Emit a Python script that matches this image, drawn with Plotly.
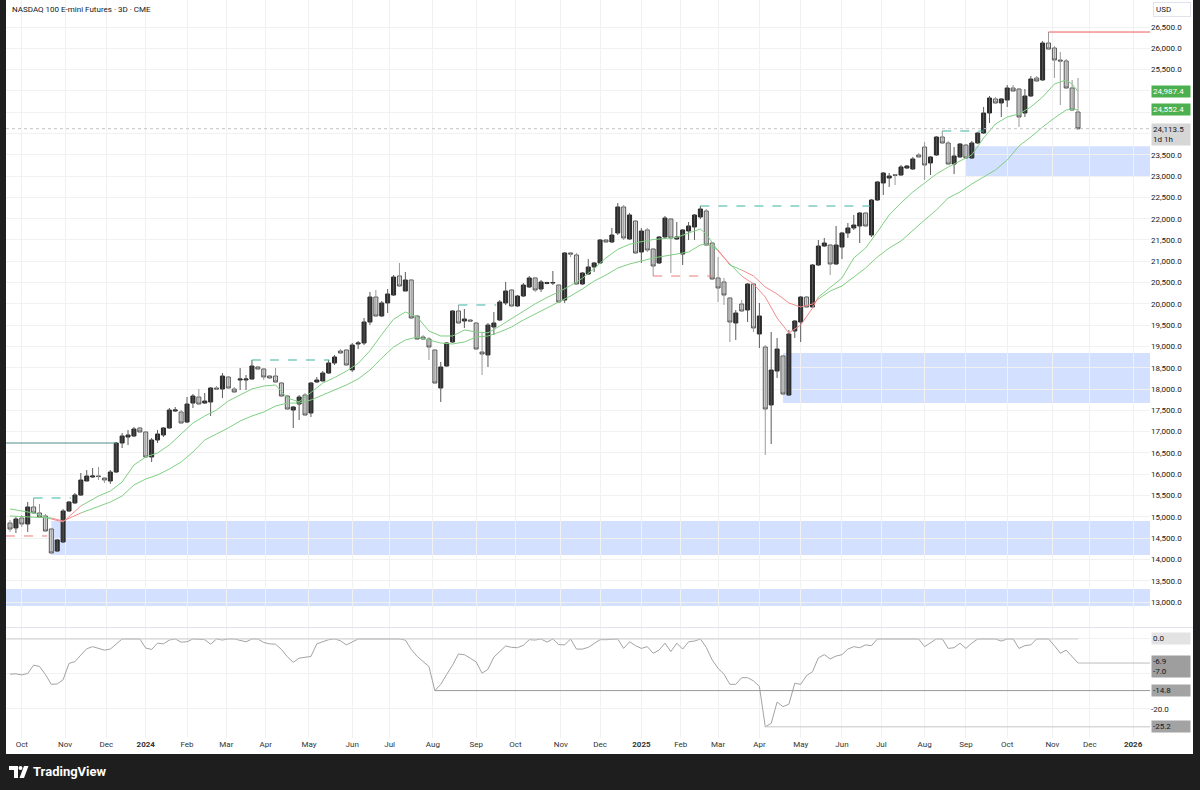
import numpy as np
import pandas as pd
import plotly.graph_objects as go

# ---------------- data ----------------
TITLE = "NASDAQ 100 E-mini Futures · 3D · CME"
first_session = "2023-09-22"
cme_holidays = ["2023-11-23", "2023-12-25", "2024-01-01", "2024-01-15", "2024-02-19",
                "2024-03-29", "2024-05-27", "2024-06-19", "2024-07-04", "2024-09-02",
                "2024-11-28", "2024-12-25", "2025-01-01", "2025-01-09", "2025-01-20",
                "2025-02-17", "2025-04-18", "2025-05-26", "2025-06-19", "2025-07-04",
                "2025-09-01", "2025-11-27", "2025-12-25", "2026-01-01"]

opens = [14855, 14738, 14972, 14831, 15231, 15090, 15019, 14714, 14197, 14409,
         15137, 15325, 15512, 15841, 15935, 15960, 15911, 15841, 16052, 16733,
         16874, 16898, 17086, 16992, 16405, 16804, 16921, 17086, 17485, 17461,
         17226, 17672, 17813, 17672, 17696, 18025, 18001, 18283, 18001, 18213,
         18213, 18236, 18518, 18471, 18306, 18306, 18142, 17837, 17508, 17649,
         17860, 17438, 18166, 18189, 18377, 18612, 18893, 18917, 18450, 19058,
         19081, 19574, 20161, 19715, 20021, 20208, 20655, 20302, 20561, 19715,
         19222, 19175, 18917, 18025, 18541, 19105, 19833, 19598, 19621, 19551,
         18870, 18800, 19457, 19621, 20021, 20326, 19950, 20185, 20396, 20608,
         20349, 20480, 20490, 20443, 20091, 21195, 21147, 20467, 20701, 20866,
         20960, 21500, 21453, 21664, 22275, 21523, 21946, 21218, 21735, 21288,
         20960, 21570, 21993, 21523, 21171, 21711, 21805, 22040, 22181, 21429,
         20608, 20514, 20138, 19551, 19997, 19856, 20467, 19293, 18987, 17626,
         18424, 18776, 17860, 19363, 19574, 20161, 19927, 20913, 21359, 21382,
         20936, 21335, 21664, 21782, 21829, 22134, 21617, 22439, 22838, 22955,
         23030, 23026, 23190, 23167, 23496, 23683, 23308, 23496, 23918, 23777,
         23284, 23449, 23730, 23425, 23777, 24012, 24482, 24811, 24717, 24787,
         25069, 25045, 24482, 24881, 25303, 25257, 26125, 26008, 25726, 25703,
         25069, 24505]
highs = [14925, 14996, 15043, 15348, 15440, 15301, 15066, 14738, 14480, 15184,
         15371, 15559, 16029, 16099, 16146, 16170, 15935, 16099, 16757, 16968,
         17039, 17109, 17109, 17000, 16851, 17039, 17109, 17555, 17579, 17508,
         17813, 17884, 18001, 17907, 18048, 18072, 18377, 18306, 18048, 18494,
         18330, 18682, 18541, 18494, 18330, 18494, 18166, 17860, 17602, 17860,
         17907, 18166, 18283, 18424, 18682, 18800, 18940, 18940, 19081, 19128,
         19668, 20279, 20326, 20068, 20349, 20678, 20960, 20748, 20584, 19739,
         19269, 19222, 18940, 18635, 19105, 19856, 19974, 19880, 19645, 19574,
         19316, 19551, 19809, 20091, 20514, 20349, 20208, 20490, 20655, 20631,
         20561, 20520, 20772, 20467, 21218, 21218, 21195, 20748, 21054, 20983,
         21523, 21510, 21782, 22369, 22322, 22134, 21970, 21782, 21782, 21312,
         21594, 22063, 22016, 21922, 21758, 21922, 22110, 22298, 22228, 21453,
         21100, 20608, 20161, 19856, 20091, 20490, 20490, 20021, 19034, 19340,
         19199, 18800, 19387, 19621, 20185, 20185, 20936, 21500, 21547, 21406,
         21829, 21688, 21899, 22087, 22157, 22157, 22463, 22885, 23096, 23073,
         23049, 23261, 23261, 23449, 23543, 23801, 23472, 23942, 24059, 23824,
         23683, 23777, 23754, 23824, 24040, 24623, 24881, 24857, 24834, 25139,
         25139, 25069, 25045, 25350, 25350, 26172, 26383, 26055, 25914, 25750,
         25257, 25304]
lows = [14644, 14620, 14761, 14644, 15080, 14990, 14644, 14140, 14174, 14385,
        15113, 15301, 15489, 15841, 15911, 15865, 15794, 15771, 16029, 16616,
        16686, 16874, 16992, 16400, 16287, 16733, 16874, 17062, 17461, 17203,
        17203, 17555, 17626, 17649, 17367, 17978, 17790, 18010, 17907, 17978,
        17978, 18213, 18460, 18213, 18236, 18142, 17813, 17508, 17085, 17273,
        17367, 17344, 18142, 18189, 18353, 18565, 18823, 18541, 18400, 18940,
        19034, 19504, 19692, 19692, 19786, 20185, 20396, 20302, 19645, 19152,
        19152, 18682, 18119, 17696, 18518, 19081, 19527, 19434, 19574, 18917,
        18330, 18518, 19269, 19598, 19974, 19927, 19927, 20161, 20373, 20279,
        20279, 20460, 20443, 20021, 20021, 21100, 20443, 20443, 20678, 20748,
        20936, 21429, 21429, 21617, 21500, 21500, 21171, 20960, 21218, 20654,
        20936, 21523, 20725, 21500, 20913, 21500, 21500, 21993, 21359, 20561,
        20044, 19974, 19105, 19152, 19809, 19574, 19340, 18964, 16452, 16710,
        18260, 17860, 17837, 19199, 19105, 19903, 19903, 20889, 21335, 20678,
        20913, 21054, 21547, 21735, 21429, 21805, 21570, 22416, 22556, 22744,
        22791, 23002, 23167, 23143, 23440, 22909, 23026, 23472, 23754, 23261,
        23049, 23426, 23402, 23402, 23754, 23989, 24247, 24693, 24388, 24623,
        24975, 24153, 24388, 24857, 25210, 25233, 25961, 25304, 24670, 25045,
        24529, 24083]
closes = [14714, 14949, 14831, 15231, 15090, 14996, 14667, 14151, 14456, 15137,
          15348, 15512, 15864, 15958, 15958, 15945, 15865, 16052, 16733, 16898,
          16921, 17062, 16992, 16405, 16804, 16945, 17086, 17508, 17508, 17203,
          17649, 17837, 17649, 17719, 18025, 18001, 18306, 18025, 17931, 18236,
          18236, 18541, 18471, 18283, 18260, 18166, 17837, 17532, 17579, 17813,
          17391, 18142, 18213, 18377, 18612, 18753, 18847, 18565, 19034, 19081,
          19574, 20161, 19715, 20021, 20232, 20631, 20420, 20561, 19668, 19175,
          19175, 18987, 18142, 18518, 19081, 19833, 19551, 19645, 19598, 18940,
          18823, 19504, 19551, 20044, 20302, 19950, 20185, 20443, 20608, 20326,
          20514, 20500, 20500, 20044, 21195, 21171, 20467, 20725, 20866, 20960,
          21500, 21453, 21617, 22275, 21547, 22087, 21195, 21711, 21265, 20889,
          21570, 22016, 21547, 21570, 21735, 21829, 22087, 22228, 21382, 20584,
          20373, 20208, 19574, 19786, 19833, 20467, 19434, 19715, 17532, 18447,
          18940, 17884, 19293, 19598, 20161, 19927, 20913, 21359, 21429, 20936,
          21382, 21664, 21782, 21852, 22134, 21829, 22439, 22862, 23073, 23002,
          23020, 23214, 23237, 23402, 23449, 23261, 23449, 23918, 23777, 23284,
          23472, 23754, 23425, 23777, 24012, 24482, 24834, 24717, 24811, 25069,
          24998, 24388, 24881, 25280, 25233, 26125, 25984, 25726, 25703, 25069,
          24552, 24113.5]

# moving averages (read at these bars)
ma_bars = [0, 4, 7, 9, 12, 15, 17, 19, 21, 23, 25, 27, 29, 31, 33, 35, 37, 39, 41, 43,
           45, 47, 49, 51, 53, 55, 57, 59, 61, 63, 65, 67, 69, 71, 73, 75, 77, 79, 81, 83,
           85, 87, 89, 91, 93, 95, 97, 99, 101, 103, 105, 107, 109, 111, 113, 115, 117, 118,
           119, 120, 122, 124, 126, 128, 130, 132, 134, 136, 137, 139, 141, 143, 145, 147,
           149, 151, 153, 155, 157, 159, 161, 163, 165, 167, 169, 171, 173, 175, 177, 179,
           180, 181]
ma_fast = [15184, 15090, 14949, 14880, 15254, 15489, 15606, 15818, 16217, 16405,
           16499, 16686, 16945, 17203, 17367, 17508, 17720, 17860, 18001, 18072,
           18095, 17790, 17700, 17920, 18140, 18270, 18420, 18600, 18900, 19280,
           19640, 19810, 19692, 19363, 19246, 19246, 19387, 19340, 19320, 19480,
           19660, 19820, 20000, 20150, 20280, 20430, 20600, 20830, 21080, 21280,
           21400, 21460, 21510, 21535, 21560, 21664, 21758, 21641, 21453, 21241,
           20936, 20654, 20467, 20161, 19668, 19316, 19504, 19903, 20161, 20396,
           20608, 21077, 21312, 21688, 22087, 22369, 22627, 22838, 23049, 23214,
           23355, 23496, 23895, 24224, 24388, 24458, 24623, 24857, 25163, 25257,
           25163, 24987.4]
ma_slow = [15019, 14996, 14972, 14902, 15090, 15254, 15348, 15489, 15747, 15888,
           15982, 16123, 16287, 16522, 16804, 16945, 17086, 17250, 17367, 17461,
           17602, 17672, 17672, 17743, 17860, 17978, 18095, 18236, 18447, 18729,
           18987, 19152, 19222, 19152, 19081, 19058, 19105, 19222, 19246, 19340,
           19457, 19621, 19762, 19903, 20044, 20185, 20349, 20537, 20678, 20842,
           20936, 21007, 21077, 21124, 21171, 21218, 21382, 21406, 21335, 21265,
           20913, 20795, 20655, 20396, 20232, 20021, 19927, 19997, 20114, 20302,
           20420, 20631, 20842, 21100, 21312, 21476, 21735, 21970, 22204, 22486,
           22627, 22815, 22979, 23143, 23378, 23707, 23918, 24153, 24364, 24552,
           24576, 24552.4]

# lower pane: % below the running high
drawdown = [-10.1, -10.0, -10.3, -9.9, -7.5, -7.9, -10.2, -13.0, -12.9, -11.7,
            -7.0, -6.5, -4.6, -2.8, -2.2, -2.6, -3.2, -2.9, -1.3, 0.0,
            0.0, 0.0, 0.0, -2.6, -3.0, -1.2, -1.4, -0.3, 0.0, -0.9,
            -0.8, 0.0, 0.0, -0.2, -1.5, 0.0, -0.3, 0.0, 0.0, -0.3,
            -0.8, 0.0, 0.0, -1.0, -1.4, -1.5, -3.0, -5.1, -6.7, -5.5,
            -5.2, -5.0, -1.4, -0.9, -0.2, 0.0, -0.5, -1.7, -0.8, 0.0,
            0.0, 0.0, 0.0, 0.0, 0.0, 0.0, 0.0, -0.3, -3.0, -5.0,
            -6.4, -7.9, -14.8, -13.0, -10.2, -7.5, -4.3, -4.5, -5.5, -6.6,
            -9.8, -8.7, -5.2, -3.7, -2.0, -2.4, -2.5, -1.8, -0.2, -0.3,
            0.0, -0.9, 0.0, -1.6, -1.7, 0.0, -2.9, -2.9, -2.4, -1.3,
            -0.2, -0.2, -0.1, 0.0, -2.7, -0.8, -1.9, -2.7, -2.2, -4.1,
            -3.2, -1.2, -3.6, -1.2, -2.9, -0.8, -0.6, 0.0, -2.4, -6.0,
            -8.4, -10.1, -13.0, -13.0, -11.1, -11.1, -12.0, -13.6, -25.2, -24.2,
            -18.1, -19.4, -18.7, -12.7, -13.0, -10.5, -9.4, -5.4, -4.5, -5.7,
            -4.9, -4.5, -2.9, -2.2, -2.5, -1.7, -1.9, 0.0, 0.0, 0.0,
            0.0, 0.0, 0.0, 0.0, 0.0, -2.2, -1.2, 0.0, 0.0, -2.7,
            -2.5, -1.2, -2.7, -1.2, 0.0, 0.0, 0.0, 0.0, -0.6, 0.0,
            0.0, -2.7, -1.9, -1.7, 0.0, 0.0, 0.0, -1.9, -4.1, -3.2,
            -5.1, -6.9]

# drawn levels (price, first bar, last bar)
res_levels = [15442, 18682, 19974, 22298, 24059]
res_from = [4, 41, 76, 117, 158]
res_to = [10.3, 54.1, 82.4, 145.8, 164.9]
sup_levels = [14550, 20654]
sup_from = [-1, 109]
sup_to = [6.3, 119]
old_high = 16733
old_high_to = 18.1
ath_level = 26383
ath_from = 176
zone_low = [23000, 17672, 14104, 12906]
zone_high = [23700, 18846, 14902, 13305]
zone_from = [162, 131, 7, -1]
dd_marks = [-14.8, -25.2]
dd_marks_from = [72, 128]
last_price = 24113.5
fast_last, slow_last = 24987.4, 24552.4
dd_last, dd_other = -6.9, -7.0
countdown = "1d 1h"

# ---------------- geometry / style ----------------
W, H = 1200, 790
ML, MR, MT, MB = 6, 50, 0, 52
PW, PH = W - ML - MR, H - MT - MB
XMIN, XMAX = -0.68, 193.2
FONT = "Roboto, Arial, sans-serif"
TXT = "#131722"
GRID = "#f1f1f1"


def pxx(px):
    return (px - ML) / PW


def pxy(py):
    return (H - MB - py) / PH


n = len(closes)
bars = list(range(n))

# month ticks from the trading calendar
days = pd.bdate_range(first_session, "2026-02-27", freq="C", holidays=cme_holidays)
month_starts = pd.date_range("2023-10-01", "2026-01-01", freq="MS")
tick_pos = [days.searchsorted(m) / 3 for m in month_starts]
tick_txt = [f"<b>{m.year}</b>" if m.month == 1 else m.strftime("%b") for m in month_starts]

fig = go.Figure()

# wicks
for up, col in [(True, "#5a5a5a"), (False, "#9a9a9a")]:
    wx, wy = [], []
    for i in bars:
        if (closes[i] >= opens[i]) == up:
            wx += [i, i, None]
            wy += [lows[i], highs[i], None]
    fig.add_trace(go.Scatter(x=wx, y=wy, mode="lines", line=dict(color=col, width=1),
                             hoverinfo="skip", showlegend=False))

# bodies
fig.add_trace(go.Candlestick(
    x=bars, open=opens, close=closes,
    high=[max(o, c) for o, c in zip(opens, closes)],
    low=[min(o, c) for o, c in zip(opens, closes)],
    increasing=dict(line=dict(color="#2b2b2b", width=1), fillcolor="#2b2b2b"),
    decreasing=dict(line=dict(color="#565656", width=1), fillcolor="#d9d9d9"),
    whiskerwidth=0, showlegend=False, hoverinfo="skip"))

# moving averages coloured by crossover state
state = [f >= s for f, s in zip(ma_fast, ma_slow)]
start = 0
for k in range(1, len(ma_bars) + 1):
    if k == len(ma_bars) or state[k] != state[k - 1]:
        end = min(k, len(ma_bars) - 1)
        col = "#7fcf83" if state[start] else "#f28b8b"
        for series in (ma_fast, ma_slow):
            fig.add_trace(go.Scatter(x=ma_bars[start:end + 1], y=series[start:end + 1],
                                     mode="lines", line=dict(color=col, width=1),
                                     hoverinfo="skip", showlegend=False))
        start = k

# lower pane line
fig.add_trace(go.Scatter(x=bars, y=drawdown, mode="lines", yaxis="y2",
                         line=dict(color="#a3a3a3", width=1),
                         hoverinfo="skip", showlegend=False))

shapes = []
# zones
for lo, hi, x0 in zip(zone_low, zone_high, zone_from):
    shapes.append(dict(type="rect", xref="x", yref="y", x0=max(x0, XMIN), x1=XMAX,
                       y0=lo, y1=hi, fillcolor="rgba(41,98,255,0.2)", line=dict(width=0),
                       layer="below"))
# dashed levels
for lv, a, b in zip(res_levels, res_from, res_to):
    shapes.append(dict(type="line", xref="x", yref="y", x0=a, x1=b, y0=lv, y1=lv,
                       line=dict(color="#3bb3a0", width=1, dash="dash")))
for lv, a, b in zip(sup_levels, sup_from, sup_to):
    shapes.append(dict(type="line", xref="x", yref="y", x0=max(a, XMIN), x1=b, y0=lv, y1=lv,
                       line=dict(color="#f07a7a", width=1, dash="dash")))
shapes.append(dict(type="line", xref="x", yref="y", x0=XMIN, x1=old_high_to,
                   y0=old_high, y1=old_high, line=dict(color="#4f8f88", width=1)))
shapes.append(dict(type="line", xref="x", yref="y", x0=ath_from, x1=XMAX,
                   y0=ath_level, y1=ath_level, line=dict(color="#f05a5a", width=1)))
shapes.append(dict(type="line", xref="x", yref="y", x0=XMIN, x1=XMAX,
                   y0=last_price, y1=last_price, line=dict(color="#c4c4c4", width=1, dash="dot")))
# lower pane levels
shapes.append(dict(type="line", xref="x", yref="y2", x0=XMIN, x1=n - 1, y0=0, y1=0,
                   line=dict(color="#cfcfcf", width=1)))
for lv, a, col in zip(dd_marks, dd_marks_from, ["#9a9a9a", "#c4c4c4"]):
    shapes.append(dict(type="line", xref="x", yref="y2", x0=a, x1=XMAX, y0=lv, y1=lv,
                       line=dict(color=col, width=1)))
shapes.append(dict(type="line", xref="x", yref="y2", x0=n - 1, x1=XMAX, y0=dd_last, y1=dd_last,
                   line=dict(color="#bdbdbd", width=1)))
# pane separator
shapes.append(dict(type="line", xref="paper", yref="paper", x0=0, x1=pxx(1193),
                   y0=pxy(627.5), y1=pxy(627.5), line=dict(color="#e0e3eb", width=1)))
# frame
DARK = "#1e1e1e"
shapes.append(dict(type="rect", xref="paper", yref="paper", x0=pxx(-2), x1=pxx(6),
                   y0=pxy(800), y1=pxy(-2), fillcolor=DARK, line=dict(width=0)))
shapes.append(dict(type="rect", xref="paper", yref="paper", x0=pxx(1193), x1=pxx(1202),
                   y0=pxy(800), y1=pxy(-2), fillcolor=DARK, line=dict(width=0)))
shapes.append(dict(type="rect", xref="paper", yref="paper", x0=pxx(-2), x1=pxx(1202),
                   y0=pxy(800), y1=pxy(754), fillcolor=DARK, line=dict(width=0)))
# logo glyph
shapes.append(dict(type="path", xref="paper", yref="paper",
                   path=(f"M {pxx(9)} {pxy(766)} L {pxx(18)} {pxy(766)} L {pxx(18)} {pxy(778)} "
                         f"L {pxx(14)} {pxy(778)} L {pxx(14)} {pxy(770)} L {pxx(9)} {pxy(770)} Z"),
                   fillcolor="white", line=dict(width=0)))
shapes.append(dict(type="circle", xref="paper", yref="paper", x0=pxx(18.5), x1=pxx(22.5),
                   y0=pxy(770), y1=pxy(766), fillcolor="white", line=dict(width=0)))
shapes.append(dict(type="path", xref="paper", yref="paper",
                   path=(f"M {pxx(24)} {pxy(766)} L {pxx(28.5)} {pxy(766)} L {pxx(24)} {pxy(778)} "
                         f"L {pxx(19.5)} {pxy(778)} Z"),
                   fillcolor="white", line=dict(width=0)))

ann = []
ann.append(dict(text=TITLE, xref="paper", yref="paper", x=pxx(10), y=pxy(9), xanchor="left",
                yanchor="middle", showarrow=False, font=dict(family=FONT, size=8, color=TXT)))
ann.append(dict(text="TradingView", xref="paper", yref="paper", x=pxx(31), y=pxy(772),
                xanchor="left", yanchor="middle", showarrow=False,
                font=dict(family=FONT, size=13, color="white", weight="bold")))
ann.append(dict(text="USD", xref="paper", yref="paper", x=pxx(1153), y=pxy(10), xanchor="left",
                yanchor="middle", showarrow=False, bgcolor="white", bordercolor="#e0e3eb",
                borderwidth=1, borderpad=2, width=32, align="left",
                font=dict(family=FONT, size=8, color=TXT)))


def box(val, yref, bg, fg, text=None, yshift=0):
    return dict(text=text or f"{val:,.1f}", xref="paper", yref=yref, x=pxx(1151), y=val,
                xanchor="left", yanchor="middle", yshift=yshift, showarrow=False,
                bgcolor=bg, borderpad=1, width=36, align="left",
                font=dict(family=FONT, size=8, color=fg))


ann.append(box(fast_last, "y", "#4caf50", "white"))
ann.append(box(slow_last, "y", "#4caf50", "white"))
ann.append(box(last_price, "y", "#d6d6d6", TXT,
               text=f"{last_price:,.1f}<br>{countdown}", yshift=-6))
ann.append(box(0.0, "y2", "#e3e3e3", TXT))
ann.append(box((dd_last + dd_other) / 2, "y2", "#9e9e9e", TXT,
               text=f"{dd_last:.1f}<br>{dd_other:.1f}", yshift=-3))
for lv in dd_marks:
    ann.append(box(lv, "y2", "#a3a3a3", TXT))

hidden = {24000, 24500, 25000}
yvals = list(range(13000, 26501, 500))
ytext = ["" if v in hidden else f"{v:,.1f}" for v in yvals]

fig.update_layout(
    width=W, height=H, margin=dict(l=ML, r=MR, t=MT, b=MB),
    paper_bgcolor="white", plot_bgcolor="white",
    boxgap=0.2, boxgroupgap=0.15,
    showlegend=False, hovermode=False,
    font=dict(family=FONT, size=8, color=TXT),
    xaxis=dict(domain=[0, 1], range=[XMIN, XMAX], anchor="y2", tickvals=tick_pos,
               ticktext=tick_txt, showgrid=True, gridcolor=GRID, gridwidth=1,
               zeroline=False, showline=False, ticks="", rangeslider=dict(visible=False),
               tickfont=dict(family=FONT, size=8, color="#333")),
    yaxis=dict(domain=[pxy(627), 1], range=[12413, 27135], side="right", tickvals=yvals,
               ticktext=ytext, showgrid=True, gridcolor=GRID, zeroline=False, ticks="",
               tickfont=dict(family=FONT, size=8, color=TXT)),
    yaxis2=dict(domain=[0, pxy(628)], range=[-28.4, 3.15], side="right", anchor="x",
                tickvals=[0, -10, -20], ticktext=["", "", "-20.0"], showgrid=True,
                gridcolor=GRID, zeroline=False, ticks="",
                tickfont=dict(family=FONT, size=8, color=TXT)),
    shapes=shapes, annotations=ann,
)

fig.write_html("out.html", config={"displayModeBar": False},
               post_script="document.body.style.margin='0';document.body.style.overflow='hidden';")
